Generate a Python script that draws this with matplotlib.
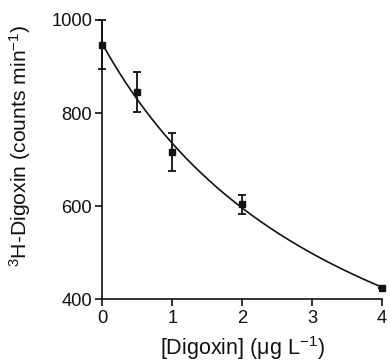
import numpy as np
import matplotlib
matplotlib.use("Agg")
import matplotlib.pyplot as plt

plt.rcParams['font.family'] = ['Liberation Sans', 'DejaVu Sans']
plt.rcParams['mathtext.fontset'] = 'custom'
plt.rcParams['mathtext.rm'] = 'Liberation Sans'
plt.rcParams['mathtext.it'] = 'Liberation Sans:italic'
plt.rcParams['mathtext.default'] = 'regular'

# Measured counts vs. digoxin concentration
digoxin = [0, 0.5, 1, 2, 4]
counts = [947, 846, 717, 604, 425]
counts_err = [53, 43, 41, 20, 0]

# Competitive-binding fit: bottom + (top - bottom) / (1 + x / ic50)
fit_top = 948
fit_bottom = -61.6
fit_ic50 = 3.736

xticks = [0, 1, 2, 3, 4]
yticks = [400, 600, 800, 1000]

fig = plt.figure(figsize=(3.9, 3.62), dpi=100)
ax = fig.add_axes([0.2628, 0.1732, 0.7167, 0.7716])

xs = np.linspace(0, 4, 200)
ax.plot(xs, fit_bottom + (fit_top - fit_bottom) / (1 + xs / fit_ic50),
        color='#111111', lw=1.2, clip_on=False, zorder=2)

ax.errorbar(digoxin, counts, yerr=counts_err, fmt='s', color='#111111',
            ms=4.6, capsize=2.6, elinewidth=1.3, capthick=1.3,
            clip_on=False, zorder=3)

ax.set_xlim(0, 4)
ax.set_ylim(400, 1000)
ax.set_xticks(xticks)
ax.set_yticks(yticks)

for s in ['top', 'right']:
    ax.spines[s].set_visible(False)
for s in ['left', 'bottom']:
    ax.spines[s].set_linewidth(1.2)
    ax.spines[s].set_color('#111111')

ax.tick_params(direction='out', length=5, width=1.2, colors='#111111',
               labelsize=13.2, pad=2.5)

ax.set_xlabel('[Digoxin] (μg L$^{-1}$)', fontsize=15.5, color='#111111', labelpad=5)
ax.set_ylabel('$^{3}$H-Digoxin (counts min$^{-1}$)', fontsize=15.2, color='#111111')
ax.yaxis.set_label_coords(-0.248, 0.55)

fig.savefig('out.png', dpi=100)
